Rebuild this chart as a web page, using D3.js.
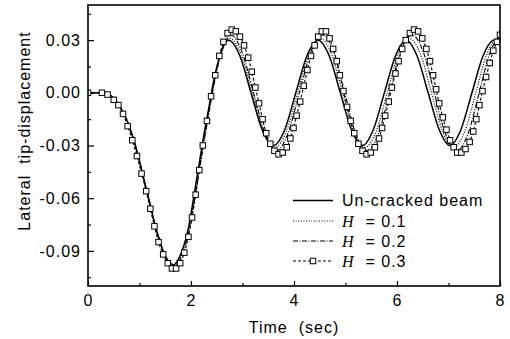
<!DOCTYPE html>
<html><head><meta charset="utf-8">
<script src="https://cdn.jsdelivr.net/npm/d3@7"></script>
<style>
body{margin:0;background:#fff;}
svg{display:block;}
text{font-family:"Liberation Sans",Arial,sans-serif;fill:#000;}
</style></head>
<body>
<svg id="chart" width="510" height="339"></svg>
<script>
// ---- data ----
const xTicks = [0, 2, 4, 6, 8];
const xMinorTicks = [1, 3, 5, 7];
const yTicks = [-0.09, -0.06, -0.03, 0.00, 0.03];
const yTickLabels = ["-0.09", "-0.06", "-0.03", "0.00", "0.03"];
const yMinorTicks = [-0.105, -0.075, -0.045, -0.015, 0.015, 0.045];
const seriesNames = ["Un-cracked beam", "0.1", "0.2", "0.3"];

const uncrackedT = [0,0.2,0.4,0.5,0.6,0.7,0.8,0.9,1.0,1.1,1.2,1.3,1.4,1.5,1.6,1.66,1.75,1.85,1.95,2.05,2.15,2.25,2.35,2.45,2.55,2.65,2.73,2.95,3.165,3.38,3.60,3.82,4.035,4.25,4.47,4.685,4.90,5.115,5.33,5.54,5.755,5.97,6.18,6.39,6.605,6.82,7.03,7.24,7.455,7.67,7.88,8.0];
const uncrackedV = [0,0,-0.001,-0.003,-0.007,-0.012,-0.019,-0.028,-0.039,-0.051,-0.063,-0.075,-0.085,-0.093,-0.097,-0.098,-0.095,-0.088,-0.077,-0.060,-0.042,-0.024,-0.008,0.008,0.020,0.028,0.030,0.021,0,-0.021,-0.030,-0.021,0,0.021,0.030,0.021,0,-0.021,-0.030,-0.021,0,0.021,0.030,0.021,0,-0.021,-0.030,-0.021,0,0.021,0.030,0.027];

const h1T = [0,0.2,0.4,0.5,0.6,0.7,0.8,0.9,1.0,1.1,1.2,1.3,1.4,1.5,1.6,1.67,1.76,1.86,1.96,2.06,2.16,2.26,2.36,2.46,2.56,2.66,2.75,2.97,3.19,3.41,3.63,3.85,4.07,4.29,4.51,4.73,4.945,5.16,5.38,5.595,5.81,6.025,6.24,6.455,6.67,6.885,7.10,7.315,7.53,7.745,7.96,8.0];
const h1V = [0,0,-0.001,-0.003,-0.007,-0.012,-0.019,-0.028,-0.039,-0.051,-0.063,-0.075,-0.085,-0.093,-0.0975,-0.0985,-0.0955,-0.088,-0.077,-0.061,-0.043,-0.025,-0.008,0.008,0.020,0.028,0.031,0.022,0,-0.022,-0.031,-0.022,0,0.022,0.031,0.022,0,-0.022,-0.031,-0.022,0,0.022,0.031,0.022,0,-0.022,-0.031,-0.022,0,0.022,0.031,0.0305];

const h2T = [0,0.2,0.4,0.5,0.6,0.7,0.8,0.9,1.0,1.1,1.2,1.3,1.4,1.5,1.6,1.68,1.77,1.87,1.97,2.07,2.17,2.27,2.37,2.47,2.57,2.67,2.77,2.99,3.215,3.44,3.66,3.88,4.105,4.33,4.55,4.77,4.985,5.20,5.42,5.64,5.855,6.07,6.29,6.51,6.725,6.94,7.16,7.38,7.595,7.81,8.0];
const h2V = [0,0,-0.001,-0.003,-0.007,-0.012,-0.019,-0.028,-0.039,-0.051,-0.063,-0.075,-0.085,-0.093,-0.098,-0.099,-0.096,-0.089,-0.077,-0.061,-0.043,-0.025,-0.008,0.008,0.021,0.029,0.033,0.0233,0,-0.0233,-0.033,-0.0233,0,0.0233,0.033,0.0233,0,-0.0233,-0.033,-0.0233,0,0.0233,0.033,0.0233,0,-0.0233,-0.033,-0.0233,0,0.0233,0.0325];

const h3T = [0.00,0.27,0.38,0.50,0.59,0.68,0.77,0.86,0.95,1.04,1.13,1.21,1.29,1.37,1.46,1.55,1.63,1.71,1.79,1.87,1.95,2.02,2.09,2.16,2.23,2.31,2.39,2.47,2.55,2.63,2.71,2.79,2.87,2.95,3.03,3.11,3.18,3.25,3.32,3.39,3.46,3.54,3.62,3.70,3.78,3.86,3.93,3.99,4.05,4.12,4.19,4.26,4.33,4.40,4.47,4.54,4.62,4.69,4.76,4.83,4.89,4.96,5.03,5.10,5.17,5.25,5.33,5.41,5.49,5.57,5.65,5.71,5.77,5.84,5.90,5.97,6.03,6.10,6.17,6.25,6.33,6.41,6.49,6.57,6.64,6.70,6.76,6.82,6.89,6.96,7.03,7.10,7.17,7.25,7.33,7.41,7.48,7.54,7.60,7.66,7.73,7.80,7.87,7.94,8.00];
const h3V = [0.000,0.000,-0.001,-0.004,-0.007,-0.012,-0.019,-0.027,-0.036,-0.046,-0.056,-0.066,-0.076,-0.085,-0.092,-0.097,-0.100,-0.100,-0.097,-0.091,-0.082,-0.071,-0.058,-0.044,-0.030,-0.016,-0.002,0.010,0.021,0.029,0.034,0.036,0.035,0.032,0.027,0.020,0.012,0.003,-0.006,-0.015,-0.023,-0.029,-0.033,-0.035,-0.034,-0.031,-0.026,-0.020,-0.013,-0.005,0.004,0.013,0.021,0.027,0.032,0.035,0.035,0.031,0.025,0.018,0.010,0.001,-0.008,-0.016,-0.023,-0.029,-0.033,-0.035,-0.034,-0.031,-0.026,-0.020,-0.013,-0.005,0.003,0.011,0.018,0.025,0.030,0.034,0.036,0.035,0.031,0.025,0.018,0.010,0.002,-0.006,-0.014,-0.021,-0.027,-0.031,-0.034,-0.034,-0.032,-0.028,-0.022,-0.015,-0.007,0.001,0.009,0.017,0.024,0.029,0.033];

// ---- layout ----
const svg = d3.select("#chart");
const L = 88, R = 500, T = 5, B = 286;
const x = d3.scaleLinear().domain([0, 8]).range([L, R]);
const y = d3.scaleLinear().domain([-0.11, 0.05]).range([B, T]);
const FONT = 16;

svg.append("defs").append("clipPath").attr("id", "clip")
  .append("rect").attr("x", L).attr("y", T).attr("width", R - L).attr("height", B - T);

// axes
const gx = svg.append("g").attr("transform", `translate(0,${B})`)
  .call(d3.axisBottom(x).tickValues(xTicks).tickSize(-5).tickPadding(9).tickFormat(d3.format("d")));
const gxm = svg.append("g").attr("transform", `translate(0,${B})`)
  .call(d3.axisBottom(x).tickValues(xMinorTicks).tickSize(-3).tickFormat(""));
const gy = svg.append("g").attr("transform", `translate(${L},0)`)
  .call(d3.axisLeft(y).tickValues(yTicks).tickSize(-6).tickPadding(7)
    .tickFormat((d, i) => yTickLabels[i]));
const gym = svg.append("g").attr("transform", `translate(${L},0)`)
  .call(d3.axisLeft(y).tickValues(yMinorTicks).tickSize(-3).tickFormat(""));
[gx, gxm, gy, gym].forEach(g => {
  g.select(".domain").remove();
  g.selectAll("line").attr("stroke", "#000").attr("stroke-width", 1.2);
  g.selectAll("text").attr("font-size", FONT).attr("letter-spacing", "1px")
    .attr("font-family", '"Liberation Sans",Arial,sans-serif').attr("fill", "#000");
});

// lines
const plot = svg.append("g").attr("clip-path", "url(#clip)");
const line = d3.line().x(d => x(d[0])).y(d => y(d[1])).curve(d3.curveMonotoneX);
const zip = (a, b) => a.map((t, i) => [t, b[i]]);
const series = [
  {data: zip(uncrackedT, uncrackedV), dash: null, w: 1.5},
  {data: zip(h1T, h1V), dash: "1,1.6", w: 1.2},
  {data: zip(h2T, h2V), dash: "5,1.5,1,1.5", w: 1.1},
  {data: zip(h3T, h3V), dash: "3,2", w: 1.1, markers: true}
];
series.forEach(s => {
  plot.append("path").attr("d", line(s.data)).attr("fill", "none")
    .attr("stroke", "#000").attr("stroke-width", s.w)
    .attr("stroke-dasharray", s.dash);
});
const ms = 5.5;
plot.selectAll("rect.m").data(series[3].data).enter().append("rect")
  .attr("class", "m")
  .attr("x", d => x(d[0]) - ms / 2).attr("y", d => y(d[1]) - ms / 2)
  .attr("width", ms).attr("height", ms)
  .attr("fill", "#fff").attr("stroke", "#000").attr("stroke-width", 1);

// frame
svg.append("rect").attr("x", L).attr("y", T).attr("width", R - L).attr("height", B - T)
  .attr("fill", "none").attr("stroke", "#000").attr("stroke-width", 1.6);

// axis titles
svg.append("text").attr("x", (L + R) / 2).attr("y", 333)
  .attr("text-anchor", "middle").attr("font-size", FONT).attr("letter-spacing", "1px")
  .style("white-space", "pre").text("Time  (sec)");
svg.append("text").attr("transform", "translate(30,131) rotate(-90)")
  .attr("text-anchor", "middle").attr("font-size", FONT).attr("letter-spacing", "1px")
  .style("white-space", "pre").text("Lateral  tip-displacement");

// legend
const legY = [200.5, 221, 241, 261];
const lx0 = 293, lx1 = 333, tx = 342;
series.forEach((s, i) => {
  svg.append("line").attr("x1", lx0).attr("x2", lx1).attr("y1", legY[i]).attr("y2", legY[i])
    .attr("stroke", "#000").attr("stroke-width", s.w).attr("stroke-dasharray", s.dash);
  if (s.markers) {
    svg.append("rect").attr("x", (lx0 + lx1) / 2 - ms / 2).attr("y", legY[i] - ms / 2)
      .attr("width", ms).attr("height", ms).attr("fill", "#fff").attr("stroke", "#000");
  }
  const t = svg.append("text").attr("x", tx).attr("y", legY[i] + 5.8)
    .attr("font-size", FONT).attr("letter-spacing", "1px").style("white-space", "pre");
  if (i === 0) {
    t.text(seriesNames[0]);
  } else {
    t.append("tspan").attr("font-family", '"Liberation Serif","Times New Roman",serif')
      .attr("font-style", "italic").text("H");
    t.append("tspan").text("  = " + seriesNames[i]);
  }
});
</script>
</body></html>
